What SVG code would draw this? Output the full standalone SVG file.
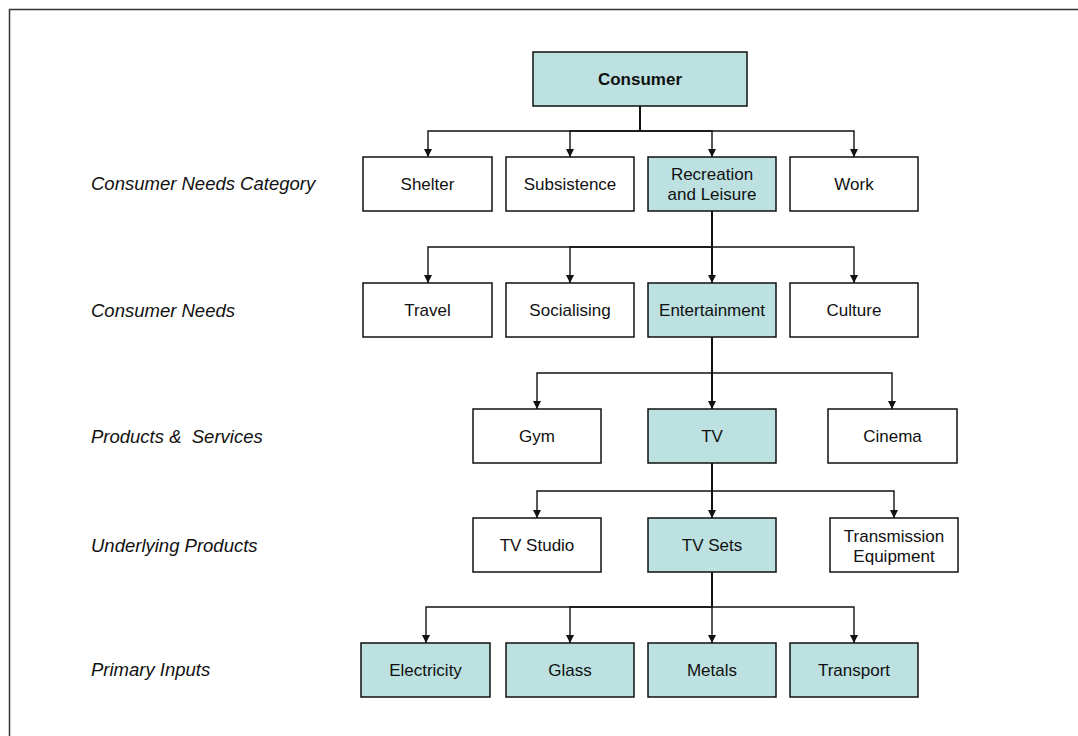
<svg xmlns="http://www.w3.org/2000/svg" width="1078" height="736" viewBox="0 0 1078 736">
<style>
.box{stroke:#111;stroke-width:1.5}
.w{fill:#fff}
.t{fill:#bce1e0}
.lbl{font-family:"Liberation Sans",Arial,sans-serif;font-size:17px;fill:#111;text-anchor:middle}
.b{font-weight:bold}
.side{font-family:"Liberation Sans",Arial,sans-serif;font-size:18.5px;font-style:italic;fill:#111;white-space:pre}
.e{fill:none;stroke:#111;stroke-width:1.4}
.trunk{fill:none;stroke:#111;stroke-width:2}
</style>
<defs>
<marker id="ah" viewBox="0 0 10 10" refX="10" refY="5" markerWidth="8" markerHeight="8" markerUnits="userSpaceOnUse" orient="auto">
<path d="M0,0 L10,5 L0,10 z" fill="#111"/>
</marker>
</defs>
<rect x="0" y="0" width="1078" height="736" fill="#fff"/>
<rect x="9.5" y="9.5" width="1090" height="760" fill="none" stroke="#333" stroke-width="1.5"/>

<g id="side-labels">
<text class="side" x="91" y="190">Consumer Needs Category</text>
<text class="side" x="91" y="317">Consumer Needs</text>
<text class="side" x="91" y="443">Products &amp;  Services</text>
<text class="side" x="91" y="552">Underlying Products</text>
<text class="side" x="91" y="676">Primary Inputs</text>
</g>

<g id="connectors">
<path class="trunk" d="M640,106 V131"/>
<path class="e" d="M640,131 H428 V157" marker-end="url(#ah)"/>
<path class="e" d="M640,131 H570 V157" marker-end="url(#ah)"/>
<path class="e" d="M640,131 H712 V157" marker-end="url(#ah)"/>
<path class="e" d="M640,131 H854 V157" marker-end="url(#ah)"/>

<path class="trunk" d="M712,211 V283"/>
<path class="e" d="M712,247 H428 V283" marker-end="url(#ah)"/>
<path class="e" d="M712,247 H570 V283" marker-end="url(#ah)"/>
<path class="e" d="M712,247 V283" marker-end="url(#ah)"/>
<path class="e" d="M712,247 H854 V283" marker-end="url(#ah)"/>

<path class="trunk" d="M712,337 V409"/>
<path class="e" d="M712,373 H537 V409" marker-end="url(#ah)"/>
<path class="e" d="M712,373 V409" marker-end="url(#ah)"/>
<path class="e" d="M712,373 H892 V409" marker-end="url(#ah)"/>

<path class="trunk" d="M712,463 V518"/>
<path class="e" d="M712,491 H537 V518" marker-end="url(#ah)"/>
<path class="e" d="M712,491 V518" marker-end="url(#ah)"/>
<path class="e" d="M712,491 H894 V518" marker-end="url(#ah)"/>

<path class="trunk" d="M712,572 V607"/>
<path class="e" d="M712,607 H426 V643" marker-end="url(#ah)"/>
<path class="e" d="M712,607 H570 V643" marker-end="url(#ah)"/>
<path class="e" d="M712,607 V643" marker-end="url(#ah)"/>
<path class="e" d="M712,607 H854 V643" marker-end="url(#ah)"/>
</g>

<g id="consumer"><rect class="box t" x="533" y="52" width="214" height="54"/><text class="lbl b" x="640" y="85">Consumer</text></g>

<g id="shelter"><rect class="box w" x="363" y="157" width="129" height="54"/><text class="lbl" x="427.5" y="190">Shelter</text></g>
<g id="subsistence"><rect class="box w" x="506" y="157" width="128" height="54"/><text class="lbl" x="570" y="190">Subsistence</text></g>
<g id="recreation"><rect class="box t" x="648" y="157" width="128" height="54"/><text class="lbl" x="712" y="180">Recreation</text><text class="lbl" x="712" y="200">and Leisure</text></g>
<g id="work"><rect class="box w" x="790" y="157" width="128" height="54"/><text class="lbl" x="854" y="190">Work</text></g>

<g id="travel"><rect class="box w" x="363" y="283" width="129" height="54"/><text class="lbl" x="427.5" y="316">Travel</text></g>
<g id="socialising"><rect class="box w" x="506" y="283" width="128" height="54"/><text class="lbl" x="570" y="316">Socialising</text></g>
<g id="entertainment"><rect class="box t" x="648" y="283" width="128" height="54"/><text class="lbl" x="712" y="316">Entertainment</text></g>
<g id="culture"><rect class="box w" x="790" y="283" width="128" height="54"/><text class="lbl" x="854" y="316">Culture</text></g>

<g id="gym"><rect class="box w" x="473" y="409" width="128" height="54"/><text class="lbl" x="537" y="442">Gym</text></g>
<g id="tv"><rect class="box t" x="648" y="409" width="128" height="54"/><text class="lbl" x="712" y="442">TV</text></g>
<g id="cinema"><rect class="box w" x="828" y="409" width="129" height="54"/><text class="lbl" x="892.5" y="442">Cinema</text></g>

<g id="tv-studio"><rect class="box w" x="473" y="518" width="128" height="54"/><text class="lbl" x="537" y="551">TV Studio</text></g>
<g id="tv-sets"><rect class="box t" x="648" y="518" width="128" height="54"/><text class="lbl" x="712" y="551">TV Sets</text></g>
<g id="transmission"><rect class="box w" x="830" y="518" width="128" height="54"/><text class="lbl" x="894" y="542">Transmission</text><text class="lbl" x="894" y="562">Equipment</text></g>

<g id="electricity"><rect class="box t" x="361" y="643" width="129" height="54"/><text class="lbl" x="425.5" y="676">Electricity</text></g>
<g id="glass"><rect class="box t" x="506" y="643" width="128" height="54"/><text class="lbl" x="570" y="676">Glass</text></g>
<g id="metals"><rect class="box t" x="648" y="643" width="128" height="54"/><text class="lbl" x="712" y="676">Metals</text></g>
<g id="transport"><rect class="box t" x="790" y="643" width="128" height="54"/><text class="lbl" x="854" y="676">Transport</text></g>
</svg>
